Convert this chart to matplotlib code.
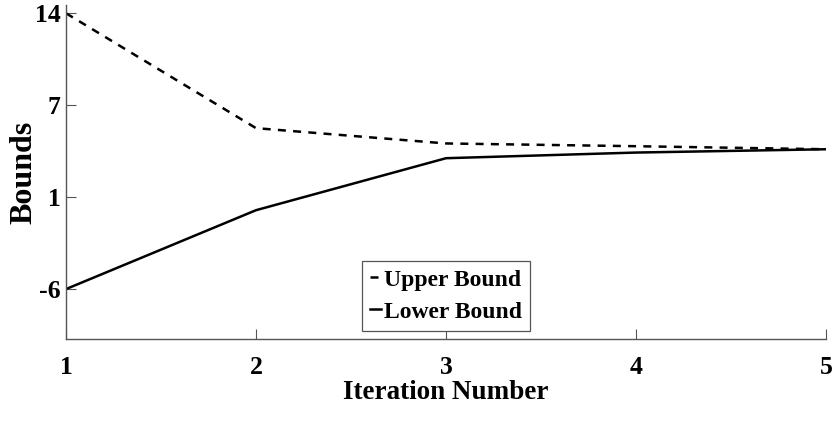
import matplotlib
matplotlib.use("Agg")
import matplotlib.pyplot as plt
import numpy as np

iterations = [1, 2, 3, 4, 5]
upper_bound = [14.0, 5.67, 4.56, 4.36, 4.14]
lower_bound = [-6.0, -0.28, 3.49, 3.90, 4.14]
ytick_vals = np.linspace(-6, 14, 4)
ytick_labels = ["-6", "1", "7", "14"]

plt.rcParams['font.family'] = ['Liberation Serif', 'DejaVu Serif']
plt.rcParams['font.weight'] = 'bold'

fig = plt.figure(figsize=(8.33, 4.25), dpi=100)
ax = fig.add_axes([66/833, 1 - 339/425, 760/833, 334/425])

ax.plot(iterations, upper_bound, color='black', lw=1.8, linestyle=(0, (3.2, 2.9)),
        label='Upper Bound')
ax.plot(iterations, lower_bound, color='black', lw=1.8, label='Lower Bound')

ax.set_xlim(1, 5)
ax.set_ylim(-9.62, 14.6)
ax.set_xticks(iterations)
ax.set_yticks(ytick_vals)
ax.set_yticklabels(ytick_labels)

grey = '#555555'
for side in ['top', 'right']:
    ax.spines[side].set_visible(False)
for side in ['left', 'bottom']:
    ax.spines[side].set_color(grey)
    ax.spines[side].set_linewidth(1.0)
ax.tick_params(direction='in', length=7, width=0.8, color=grey, labelsize=18.5)
ax.tick_params(axis='x', pad=12)
ax.tick_params(axis='y', pad=4)

ax.set_xlabel('Iteration Number', fontsize=19.5, fontweight='bold', labelpad=1)
ax.set_ylabel('Bounds', fontsize=23, fontweight='bold', labelpad=-3)

leg = ax.legend(loc='lower center', bbox_to_anchor=(0.5, 0.024), fontsize=17,
                handlelength=0.45, handletextpad=0.12, borderpad=0.35,
                labelspacing=0.45, fancybox=False, framealpha=1,
                edgecolor=grey, borderaxespad=0)
leg.get_frame().set_linewidth(0.9)

fig.savefig('out.png', dpi=100)
